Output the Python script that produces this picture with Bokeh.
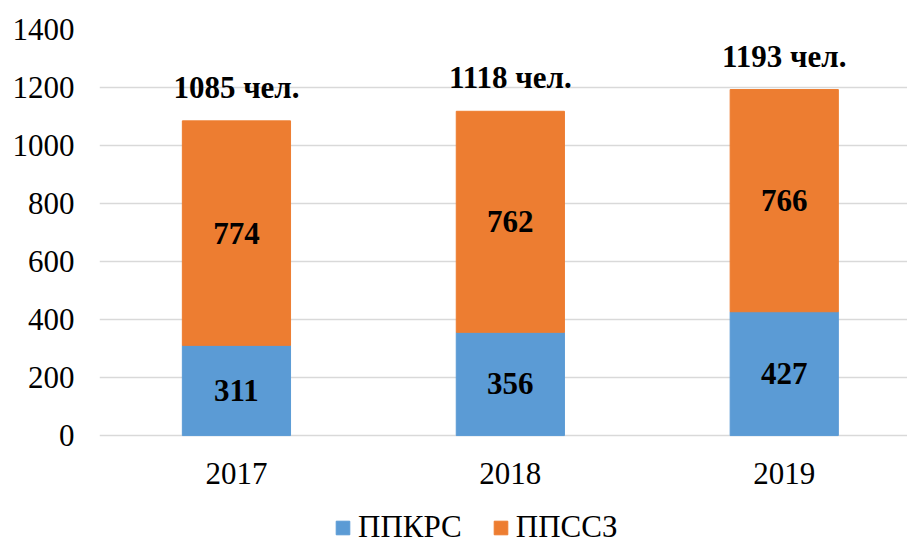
from bokeh.plotting import figure
from bokeh.models import ColumnDataSource, Range1d, FixedTicker, LabelSet, Legend, LegendItem
from bokeh.embed import file_html
from bokeh.resources import INLINE

years = ["2017", "2018", "2019"]
ppkrs = [311, 356, 427]
ppssz = [774, 762, 766]
series_names = ["ППКРС", "ППССЗ"]
y_ticks = [0, 200, 400, 600, 800, 1000, 1200, 1400]

FONT = "Liberation Serif"
BLUE = "#5B9BD5"
ORANGE = "#ED7D31"

xpos = [i + 0.5 for i in range(len(years))]
totals = [a + b for a, b in zip(ppkrs, ppssz)]
src = ColumnDataSource(dict(
    x=xpos, year=years, ppkrs=ppkrs, ppssz=ppssz,
    bottom2=ppkrs, top2=totals,
    base=[0] * len(years),
    mid1=[v / 2 for v in ppkrs],
    mid2=[a + b / 2 for a, b in zip(ppkrs, ppssz)],
    total=totals,
    total_txt=[f"{t} чел." for t in totals],
    t1=[str(v) for v in ppkrs], t2=[str(v) for v in ppssz],
))

# frame extends below zero so that category labels and legend sit inside it
p = figure(frame_width=808, frame_height=516, output_backend="svg", toolbar_location=None,
           x_range=Range1d(0, 2.95), y_range=Range1d(-379, 1400),
           min_border_left=99, min_border_right=0, min_border_top=29, min_border_bottom=0)
p.outline_line_color = None
p.background_fill_color = "white"
p.border_fill_color = "white"

r1 = p.vbar(x="x", bottom=0, top="ppkrs", width=0.395, source=src, fill_color=BLUE, line_color=BLUE)
r2 = p.vbar(x="x", bottom="bottom2", top="top2", width=0.395, source=src, fill_color=ORANGE, line_color=ORANGE)

lbl_style = dict(text_font=FONT, text_font_style="bold", text_font_size="31px",
                 text_color="black", text_align="center", source=src)
p.add_layout(LabelSet(x="x", y="mid1", text="t1", text_baseline="middle", **lbl_style))
p.add_layout(LabelSet(x="x", y="mid2", text="t2", text_baseline="middle", **lbl_style))
p.add_layout(LabelSet(x="x", y="total", text="total_txt", text_baseline="alphabetic", y_offset=23, **lbl_style))

# category labels under the bars
p.add_layout(LabelSet(x="x", y="base", text="year", text_baseline="middle", y_offset=-38,
                      text_font=FONT, text_font_size="31px", text_color="black",
                      text_align="center", source=src))

p.xgrid.visible = False
p.ygrid.grid_line_color = "#D9D9D9"
p.ygrid.grid_line_width = 1.5
p.ygrid.ticker = FixedTicker(ticks=y_ticks)

p.yaxis.ticker = FixedTicker(ticks=y_ticks)
p.yaxis.axis_line_color = None
p.yaxis.major_tick_line_color = None
p.yaxis.minor_tick_line_color = None
p.yaxis.major_label_standoff = 19
p.yaxis.major_label_text_font = FONT
p.yaxis.major_label_text_font_size = "31px"
p.yaxis.major_label_text_color = "black"

p.xaxis.visible = False

legend = Legend(items=[LegendItem(label=series_names[0], renderers=[r1]),
                       LegendItem(label=series_names[1], renderers=[r2])],
                orientation="horizontal", location=(235, 0),
                label_text_font=FONT, label_text_font_size="31px", label_text_color="black",
                glyph_width=17, glyph_height=17, spacing=30, label_standoff=7,
                border_line_color=None, background_fill_alpha=0, padding=0, margin=0)
p.add_layout(legend, "center")

open("out.html", "w").write(file_html(p, INLINE))
